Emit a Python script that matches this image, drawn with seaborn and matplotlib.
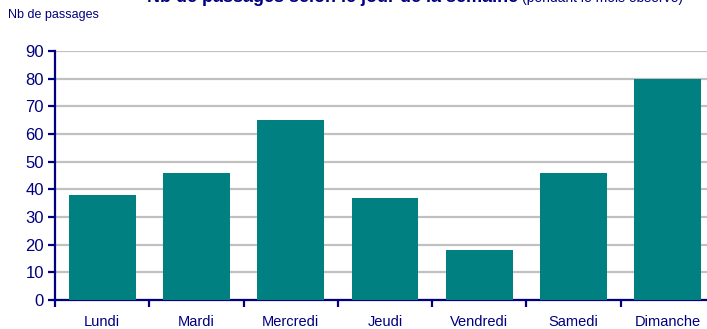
import matplotlib
matplotlib.use("Agg")
import matplotlib.pyplot as plt
import seaborn as sns
import pandas as pd

jours = ["Lundi", "Mardi", "Mercredi", "Jeudi", "Vendredi", "Samedi", "Dimanche"]
passages = [38, 46, 65, 37, 18, 46, 80]
y_ticks = [0, 10, 20, 30, 40, 50, 60, 70, 80, 90]

NAVY = "#000080"
TEAL = "#008080"

sns.set_theme(style="white")
plt.rcParams["font.family"] = ["Liberation Sans Narrow", "Liberation Sans", "DejaVu Sans"]

df = pd.DataFrame({"jour": jours, "passages": passages})

fig = plt.figure(figsize=(7.07, 3.29), dpi=100)
ax = fig.add_axes([55 / 707, 29 / 329, 660 / 707, 249 / 329])

sns.barplot(data=df, x="jour", y="passages", color=TEAL, saturation=1,
            width=0.71, linewidth=0, edgecolor="none", ax=ax, zorder=3)

ax.set_ylim(0, 90)
ax.set_xlim(-0.5, len(jours) - 0.5)
ax.set_yticks(y_ticks)
ax.yaxis.grid(True, color="#c0c0c0", linewidth=1.6, zorder=0)
ax.set_axisbelow(True)

for s in ["top", "right"]:
    ax.spines[s].set_visible(False)
for s in ["left", "bottom"]:
    ax.spines[s].set_color(NAVY)
    ax.spines[s].set_linewidth(1.6)

# category labels centred, tick marks between categories
ax.set_xticks(range(len(jours)))
ax.set_xticklabels(jours)
ax.tick_params(axis="x", which="major", length=0, pad=10.5, labelsize=10.5, labelcolor=NAVY)
ax.set_xticks([i + 0.5 for i in range(-1, len(jours))], minor=True)
ax.tick_params(axis="x", which="minor", direction="out", length=5, width=1.6, color=NAVY, bottom=True)
ax.tick_params(axis="y", direction="out", length=5, width=1.6, color=NAVY,
               labelsize=12, labelcolor=NAVY, pad=3, left=True)
ax.set_xlabel("")
ax.set_ylabel("")

fig.text(8 / 707, 1 - 18 / 329, "Nb de passages", color=NAVY, fontsize=9, va="baseline")

# chart title, sitting at the very top edge
t1 = fig.text(147 / 707, 1 - 2 / 329, "Nb de passages selon le jour de la semaine",
              color=NAVY, fontsize=13, fontweight="bold", va="baseline",
              family=["Liberation Sans", "DejaVu Sans"])
fig.canvas.draw()
bb = t1.get_window_extent()
fig.text(bb.x1 / 707 + 4 / 707, 1 - 2 / 329, "(pendant le mois observé)",
         color=NAVY, fontsize=10, va="baseline")

fig.savefig("out.png", dpi=100)
